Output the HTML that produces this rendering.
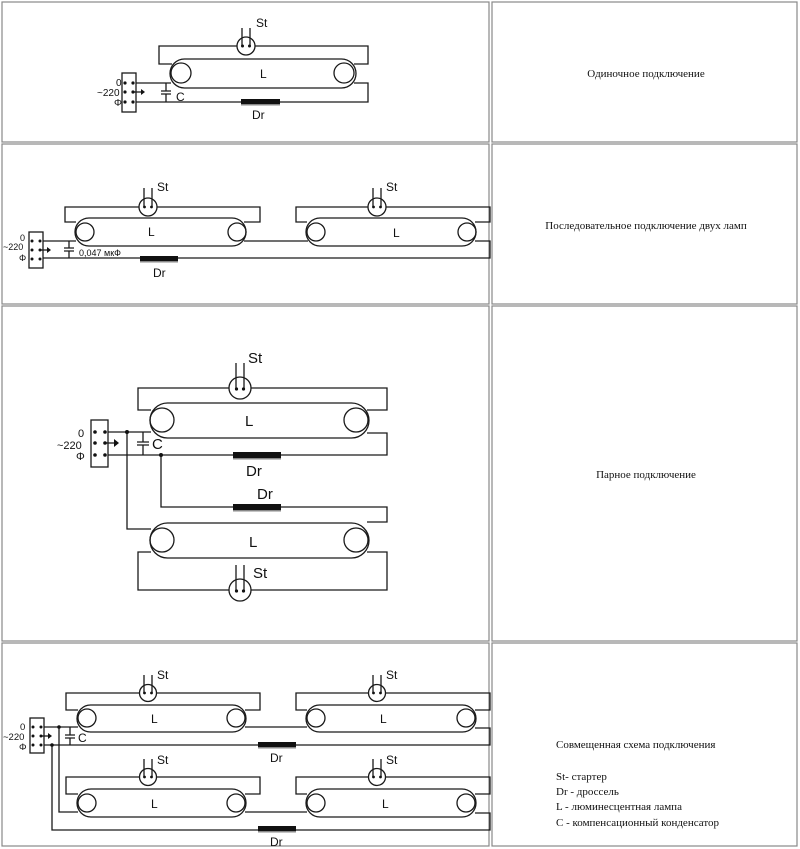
<!DOCTYPE html>
<html><head><meta charset="utf-8"><style>
html,body{margin:0;padding:0;background:#fff}
svg{display:block}
.w{fill:none;stroke:#1a1a1a;stroke-width:1.3}
.b{fill:none;stroke:#888;stroke-width:1.2}
.t{font-family:"Liberation Serif",serif;font-size:11px;fill:#111}
.s{font-family:"Liberation Sans",sans-serif;fill:#111}
</style></head><body>
<svg width="800" height="849" viewBox="0 0 800 849" xmlns="http://www.w3.org/2000/svg">
<!-- table -->
<rect class="b" x="2" y="2" width="487" height="140"/>
<rect class="b" x="492" y="2" width="305" height="140"/>
<rect class="b" x="2" y="144" width="487" height="160"/>
<rect class="b" x="492" y="144" width="305" height="160"/>
<rect class="b" x="2" y="306" width="487" height="335"/>
<rect class="b" x="492" y="306" width="305" height="335"/>
<rect class="b" x="2" y="643" width="487" height="203"/>
<rect class="b" x="492" y="643" width="305" height="203"/>

<text class="t" x="646" y="77" text-anchor="middle">Одиночное подключение</text>
<text class="t" x="646" y="229" text-anchor="middle">Последовательное подключение двух ламп</text>
<text class="t" x="646" y="478" text-anchor="middle">Парное подключение</text>
<text class="t" x="556" y="748">Совмещенная схема подключения</text>
<text class="t" x="556" y="780">St- стартер</text>
<text class="t" x="556" y="795">Dr - дроссель</text>
<text class="t" x="556" y="810">L - люминесцентная лампа</text>
<text class="t" x="556" y="826">C - компенсационный конденсатор</text>

<!-- ROW 1 -->
<g class="w">
<path d="M172,64 H159 V46 H368 V64 H354"/>
<rect x="170" y="59" width="186" height="29" rx="14.5"/>
<circle cx="181" cy="73" r="10"/><circle cx="344" cy="73" r="10"/>
<path d="M136,83 H171"/>
<path d="M136,102 H368 V83 H354"/>
<path d="M166,83 V91 M161,91 H171 M161,94 H171 M166,94 V102"/>
<rect x="122" y="73" width="14" height="39" fill="#fff"/>
<circle cx="246" cy="46" r="9" fill="#fff"/>
<path d="M242,46 V28 M250,46 V28"/>
<path d="M134,92 H142"/>
</g>
<g fill="#111"><circle cx="125" cy="83" r="1.6"/><circle cx="133" cy="83" r="1.6"/><circle cx="125" cy="92" r="1.6"/><circle cx="133" cy="92" r="1.6"/><circle cx="125" cy="102" r="1.6"/><circle cx="133" cy="102" r="1.6"/><circle cx="242.5" cy="46" r="1.5"/><circle cx="249.5" cy="46" r="1.5"/><path d="M141,89 L145,92 L141,95Z"/><rect x="241" y="99" width="39" height="5"/></g>
<rect x="241" y="104" width="39" height="1.5" fill="#888"/>
<g class="s" font-size="12"><text x="256" y="27">St</text><text x="260" y="78">L</text><text x="176" y="101">C</text><text x="252" y="119">Dr</text></g>
<g class="s" font-size="10"><text x="116" y="86">0</text><text x="97" y="96">~220</text><text x="114" y="106">Φ</text></g>

<!-- ROW 2 -->
<g class="w">
<path d="M76,222 H65 V207 H260 V222 H244"/>
<rect x="75" y="218" width="171" height="28" rx="14"/>
<circle cx="85" cy="232" r="9"/><circle cx="237" cy="232" r="9"/>
<path d="M43,241 H76"/>
<path d="M244,241 H308"/>
<path d="M307,222 H296 V207 H490 V222 H475"/>
<rect x="306" y="218" width="170" height="28" rx="14"/>
<circle cx="316" cy="232" r="9"/><circle cx="467" cy="232" r="9"/>
<path d="M475,241 H490 V258 H43"/>
<path d="M69,241 V248 M64,248 H74 M64,251 H74 M69,251 V258"/>
<rect x="29" y="232" width="14" height="36" fill="#fff"/>
<circle cx="148" cy="207" r="9" fill="#fff"/><path d="M144,207 V188 M152,207 V188"/>
<circle cx="377" cy="207" r="9" fill="#fff"/><path d="M373,207 V188 M381,207 V188"/>
<path d="M41,250 H48"/>
</g>
<g fill="#111"><circle cx="32" cy="241" r="1.5"/><circle cx="40" cy="241" r="1.5"/><circle cx="32" cy="250" r="1.5"/><circle cx="40" cy="250" r="1.5"/><circle cx="32" cy="259" r="1.5"/><circle cx="40" cy="259" r="1.5"/><circle cx="144.5" cy="207" r="1.4"/><circle cx="151.5" cy="207" r="1.4"/><circle cx="373.5" cy="207" r="1.4"/><circle cx="380.5" cy="207" r="1.4"/><path d="M47,247 L51,250 L47,253Z"/><rect x="140" y="256" width="38" height="5"/></g>
<rect x="140" y="261" width="38" height="1.5" fill="#888"/>
<g class="s" font-size="12"><text x="157" y="191">St</text><text x="386" y="191">St</text><text x="148" y="236">L</text><text x="393" y="237">L</text><text x="153" y="277">Dr</text></g>
<g class="s" font-size="9"><text x="79" y="256">0,047 мкФ</text><text x="20" y="241">0</text><text x="3" y="250">~220</text><text x="19" y="261">Φ</text></g>

<!-- ROW 3 -->
<g class="w">
<path d="M151,410 H138 V388 H387 V410 H367"/>
<rect x="150" y="403" width="219" height="35" rx="17.5"/>
<circle cx="162" cy="420" r="12"/><circle cx="356" cy="420" r="12"/>
<path d="M108,432 H151"/>
<path d="M108,455 H387 V433 H367"/>
<path d="M143,432 V442 M137,442 H149 M137,445 H149 M143,445 V455"/>
<path d="M127,432 V529 H151"/>
<path d="M161,455 V507 H387 V522 H367"/>
<rect x="150" y="523" width="219" height="35" rx="17.5"/>
<circle cx="162" cy="540" r="12"/><circle cx="356" cy="540" r="12"/>
<path d="M151,552 H138 V590 H387 V552 H367"/>
<rect x="91" y="420" width="17" height="47" fill="#fff"/>
<circle cx="240" cy="388" r="11" fill="#fff"/><path d="M236,388 V363 M244,388 V363"/>
<circle cx="240" cy="590" r="11" fill="#fff"/><path d="M236,590 V565 M244,590 V565"/>
<path d="M106,443 H115"/>
</g>
<g fill="#111"><circle cx="95" cy="432" r="1.8"/><circle cx="105" cy="432" r="1.8"/><circle cx="95" cy="443" r="1.8"/><circle cx="105" cy="443" r="1.8"/><circle cx="95" cy="455" r="1.8"/><circle cx="105" cy="455" r="1.8"/><circle cx="127" cy="432" r="2"/><circle cx="161" cy="455" r="2"/><circle cx="236.5" cy="389" r="1.6"/><circle cx="243.5" cy="389" r="1.6"/><circle cx="236.5" cy="591" r="1.6"/><circle cx="243.5" cy="591" r="1.6"/><path d="M114,439 L119,443 L114,447Z"/><rect x="233" y="452" width="48" height="6"/><rect x="233" y="504" width="48" height="6"/></g>
<rect x="233" y="458" width="48" height="1.5" fill="#888"/><rect x="233" y="510" width="48" height="1.5" fill="#888"/>
<g class="s" font-size="15"><text x="248" y="363">St</text><text x="253" y="578">St</text><text x="245" y="426">L</text><text x="249" y="547">L</text><text x="246" y="476">Dr</text><text x="257" y="499">Dr</text><text x="152" y="449">C</text></g>
<g class="s" font-size="11"><text x="78" y="437">0</text><text x="57" y="449">~220</text><text x="76" y="460">Φ</text></g>

<!-- ROW 4 -->
<g class="w">
<path d="M78,710 H66 V693 H260 V710 H245"/>
<rect x="77" y="705" width="169" height="27" rx="13.5"/>
<circle cx="87" cy="718" r="9"/><circle cx="236" cy="718" r="9"/>
<path d="M307,710 H296 V693 H490 V710 H475"/>
<rect x="306" y="705" width="170" height="27" rx="13.5"/>
<circle cx="316" cy="718" r="9"/><circle cx="466" cy="718" r="9"/>
<path d="M44,727 H78 M245,727 H307"/>
<path d="M475,728 H490 V745 H44"/>
<path d="M70,727 V735 M65,735 H75 M65,738 H75 M70,738 V745"/>
<path d="M59,727 V812 H78"/>
<path d="M52,745 V830 H490 V813 H475"/>
<path d="M78,794 H66 V777 H260 V794 H245"/>
<rect x="77" y="789" width="169" height="28" rx="14"/>
<circle cx="87" cy="803" r="9"/><circle cx="236" cy="803" r="9"/>
<path d="M307,794 H296 V777 H490 V794 H475"/>
<rect x="306" y="789" width="170" height="28" rx="14"/>
<circle cx="316" cy="803" r="9"/><circle cx="466" cy="803" r="9"/>
<path d="M245,812 H307"/>
<rect x="30" y="718" width="14" height="35" fill="#fff"/>
<circle cx="148" cy="693" r="8.5" fill="#fff"/><path d="M144,693 V675 M152,693 V675"/>
<circle cx="377" cy="693" r="8.5" fill="#fff"/><path d="M373,693 V675 M381,693 V675"/>
<circle cx="148" cy="777" r="8.5" fill="#fff"/><path d="M144,777 V759 M152,777 V759"/>
<circle cx="377" cy="777" r="8.5" fill="#fff"/><path d="M373,777 V759 M381,777 V759"/>
<path d="M42,736 H49"/>
</g>
<g fill="#111"><circle cx="33" cy="727" r="1.5"/><circle cx="41" cy="727" r="1.5"/><circle cx="33" cy="736" r="1.5"/><circle cx="41" cy="736" r="1.5"/><circle cx="33" cy="745" r="1.5"/><circle cx="41" cy="745" r="1.5"/><circle cx="59" cy="727" r="1.8"/><circle cx="52" cy="745" r="1.8"/><circle cx="144.5" cy="693" r="1.4"/><circle cx="151.5" cy="693" r="1.4"/><circle cx="373.5" cy="693" r="1.4"/><circle cx="380.5" cy="693" r="1.4"/><circle cx="144.5" cy="777" r="1.4"/><circle cx="151.5" cy="777" r="1.4"/><circle cx="373.5" cy="777" r="1.4"/><circle cx="380.5" cy="777" r="1.4"/><path d="M48,733 L52,736 L48,739Z"/><rect x="258" y="742" width="38" height="5"/><rect x="258" y="826" width="38" height="5"/></g>
<rect x="258" y="747" width="38" height="1.5" fill="#888"/><rect x="258" y="831" width="38" height="1.5" fill="#888"/>
<g class="s" font-size="12"><text x="157" y="679">St</text><text x="386" y="679">St</text><text x="157" y="764">St</text><text x="386" y="764">St</text>
<text x="151" y="723">L</text><text x="380" y="723">L</text><text x="151" y="808">L</text><text x="382" y="808">L</text>
<text x="270" y="762">Dr</text><text x="270" y="846">Dr</text><text x="78" y="742">C</text></g>
<g class="s" font-size="9.5"><text x="20" y="730">0</text><text x="3" y="740">~220</text><text x="19" y="750">Φ</text></g>
</svg>
</body></html>
